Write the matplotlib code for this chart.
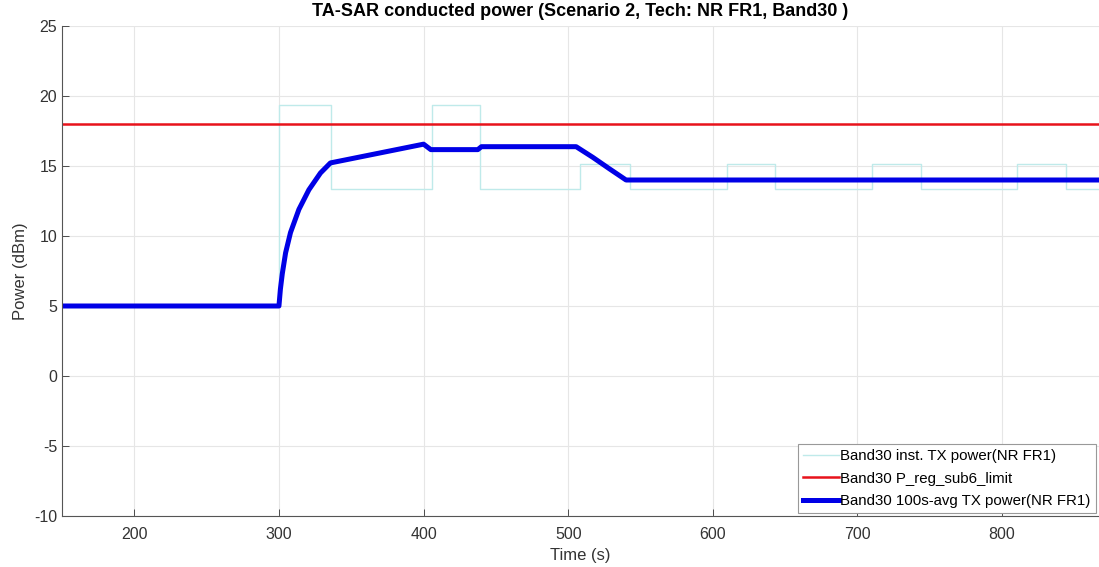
import matplotlib
matplotlib.use('Agg')
from matplotlib import pyplot as plt

plt.rcParams['font.family'] = ['Liberation Sans', 'DejaVu Sans']
plt.rcParams['axes.unicode_minus'] = False

# instantaneous TX power (step changes)
inst_t = [150, 300, 336, 406, 439, 508, 543, 610, 643, 710, 744, 810, 844, 870]
inst_p = [5.0, 19.35, 13.35, 19.35, 13.35, 15.17, 13.35, 15.17, 13.35, 15.17, 13.35, 15.17, 13.35, 13.35]

# regulatory limit
limit_t = [150, 870]
limit_p = [18.0, 18.0]

# 100s average TX power
avg_t = [150, 300, 301, 302.3, 304.6, 308, 313.8, 320.7, 328.7, 335.6, 400, 405, 437.5, 440,
         505.5, 517, 528.5, 540, 870]
avg_p = [5.0, 5.0, 6.2, 7.3, 8.8, 10.25, 11.9, 13.3, 14.5, 15.22, 16.56, 16.17, 16.17, 16.38,
         16.38, 15.62, 14.8, 14.0, 14.0]

fig = plt.figure(figsize=(10.99, 5.67), dpi=100)
ax = fig.add_axes([62 / 1099, 1 - 516 / 567, 1 - 62 / 1099, (516 - 26) / 567])

ax.plot(inst_t, inst_p, drawstyle='steps-post', color='#bfeaea', lw=1.0,
        label='Band30 inst. TX power(NR FR1)')
ax.plot(limit_t, limit_p, color='#e8131b', lw=1.8, label='Band30 P_reg_sub6_limit')
ax.plot(avg_t, avg_p, color='#0000e6', lw=3.6, solid_joinstyle='round',
        label='Band30 100s-avg TX power(NR FR1)')

ax.set_xlim(150, 867)
ax.set_ylim(-10, 25)
ax.set_xticks([200, 300, 400, 500, 600, 700, 800])
ax.set_yticks([-10, -5, 0, 5, 10, 15, 20, 25])
ax.grid(True, color='#e6e6e6', lw=0.8)
ax.set_axisbelow(True)
ax.spines['top'].set_visible(False)
ax.spines['right'].set_visible(False)
for s in ['left', 'bottom']:
    ax.spines[s].set_color('#555555')
    ax.spines[s].set_linewidth(0.8)
ax.tick_params(direction='in', colors='#333333', labelsize=11.5, length=5, width=0.6)
ax.tick_params(axis='x', pad=8)

ax.set_xlabel('Time (s)', fontsize=12, color='#333333')
ax.set_ylabel('Power (dBm)', fontsize=12, color='#333333')
ax.set_title('TA-SAR conducted power (Scenario 2, Tech: NR FR1, Band30 )',
             fontsize=13, fontweight='bold', pad=7)

leg = ax.legend(loc='lower right', fontsize=10.8, fancybox=False, framealpha=1,
                edgecolor='#999999', borderpad=0.35, labelspacing=0.55,
                handlelength=2.4, handletextpad=0.1, borderaxespad=0.2)
leg.get_frame().set_linewidth(0.8)

fig.savefig('out.png', dpi=100)
